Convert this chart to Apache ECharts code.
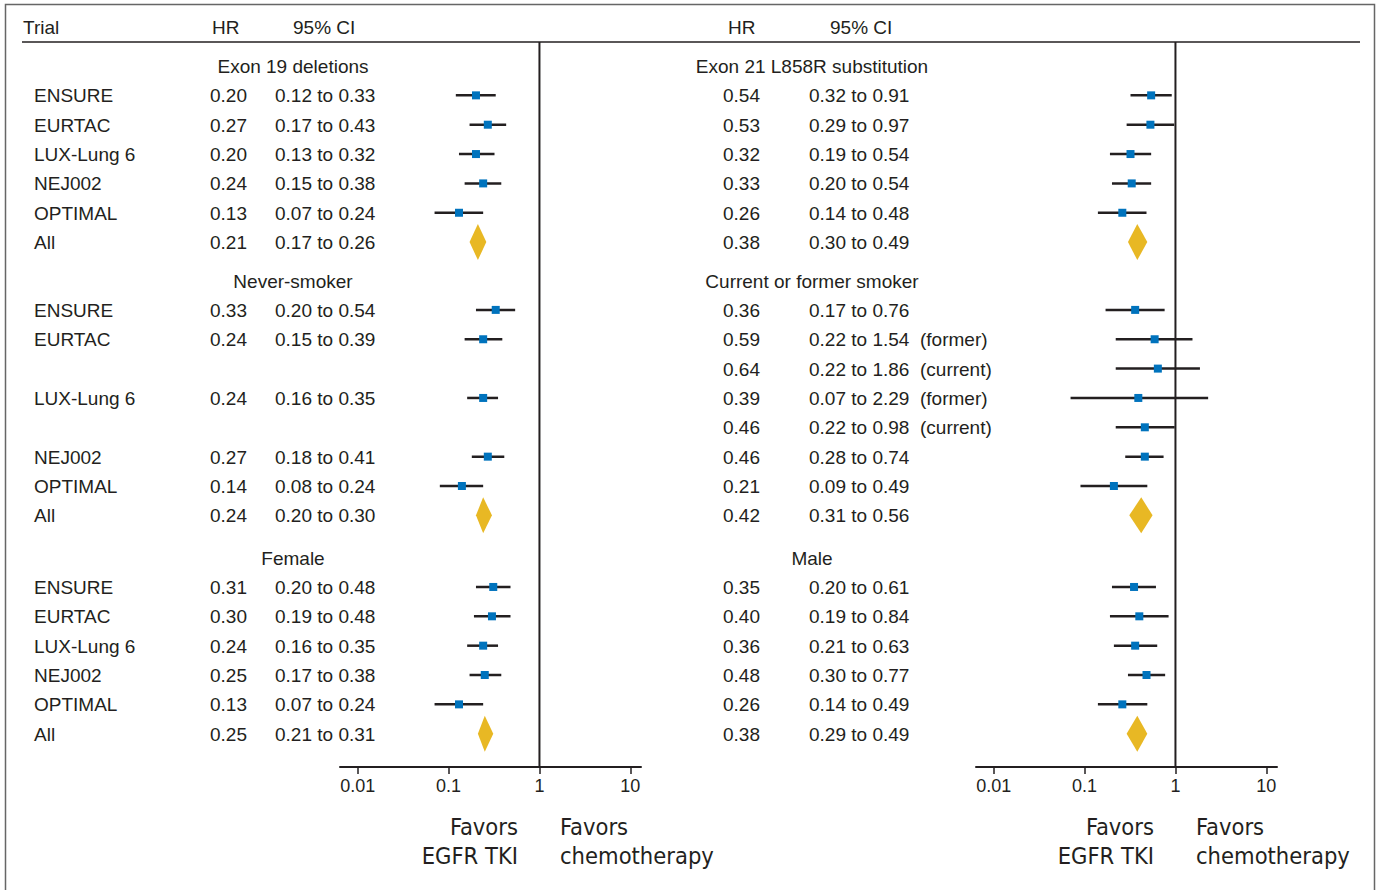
<!DOCTYPE html>
<html><head><meta charset="utf-8">
<script src="https://cdn.jsdelivr.net/npm/echarts@6/dist/echarts.min.js"></script>
<style>html,body{margin:0;padding:0;background:#fff}#c{width:1381px;height:890px}</style>
</head><body><div id="c"></div>
<script>
// ---------- data ----------
const groupTitlesLeft = ['Exon 19 deletions', 'Never-smoker', 'Female'];
const groupTitlesRight = ['Exon 21 L858R substitution', 'Current or former smoker', 'Male'];

const trialNames1 = ['ENSURE', 'EURTAC', 'LUX-Lung 6', 'NEJ002', 'OPTIMAL', 'All'];
const trialNames2 = ['ENSURE', 'EURTAC', '', 'LUX-Lung 6', '', 'NEJ002', 'OPTIMAL', 'All'];
const trialNames2Right = ['ENSURE', 'EURTAC', 'EURTAC', 'LUX-Lung 6', 'LUX-Lung 6', 'NEJ002', 'OPTIMAL', 'All'];
const trialNames3 = ['ENSURE', 'EURTAC', 'LUX-Lung 6', 'NEJ002', 'OPTIMAL', 'All'];

// left panel
const exon19HR = [0.20, 0.27, 0.20, 0.24, 0.13, 0.21];
const exon19Lo = [0.12, 0.17, 0.13, 0.15, 0.07, 0.17];
const exon19Hi = [0.33, 0.43, 0.32, 0.38, 0.24, 0.26];

const neverHR = [0.33, 0.24, null, 0.24, null, 0.27, 0.14, 0.24];
const neverLo = [0.20, 0.15, null, 0.16, null, 0.18, 0.08, 0.20];
const neverHi = [0.54, 0.39, null, 0.35, null, 0.41, 0.24, 0.30];

const femaleHR = [0.31, 0.30, 0.24, 0.25, 0.13, 0.25];
const femaleLo = [0.20, 0.19, 0.16, 0.17, 0.07, 0.21];
const femaleHi = [0.48, 0.48, 0.35, 0.38, 0.24, 0.31];

// right panel
const exon21HR = [0.54, 0.53, 0.32, 0.33, 0.26, 0.38];
const exon21Lo = [0.32, 0.29, 0.19, 0.20, 0.14, 0.30];
const exon21Hi = [0.91, 0.97, 0.54, 0.54, 0.48, 0.49];

const smokerHR = [0.36, 0.59, 0.64, 0.39, 0.46, 0.46, 0.21, 0.42];
const smokerLo = [0.17, 0.22, 0.22, 0.07, 0.22, 0.28, 0.09, 0.31];
const smokerHi = [0.76, 1.54, 1.86, 2.29, 0.98, 0.74, 0.49, 0.56];
const smokerNote = ['', '(former)', '(current)', '(former)', '(current)', '', '', ''];

const maleHR = [0.35, 0.40, 0.36, 0.48, 0.26, 0.38];
const maleLo = [0.20, 0.19, 0.21, 0.30, 0.14, 0.29];
const maleHi = [0.61, 0.84, 0.63, 0.77, 0.49, 0.49];

const tickValues = [0.01, 0.1, 1, 10];
const tickLabels = ['0.01', '0.1', '1', '10'];

// ---------- layout helpers ----------
const GAPS = [0.31, 0.44];
const TXT = '#231f20';
const FONT = "'Liberation Sans', Arial, sans-serif";
const FS = 19;

function buildRows(titles, names, hrs, los, his, notes) {
  const rows = [];
  let base = 0;
  for (let g = 0; g < titles.length; g++) {
    rows.push({ pos: base, header: titles[g] });
    for (let i = 0; i < hrs[g].length; i++) {
      rows.push({
        pos: base + 1 + i,
        name: names[g][i],
        hr: hrs[g][i], lo: los[g][i], hi: his[g][i],
        note: notes[g] ? notes[g][i] : '',
        all: names[g][i] === 'All'
      });
    }
    base = base + hrs[g].length + 1 + (GAPS[g] || 0);
  }
  return rows;
}
const leftRows = buildRows(groupTitlesLeft, [trialNames1, trialNames2, trialNames3],
  [exon19HR, neverHR, femaleHR], [exon19Lo, neverLo, femaleLo], [exon19Hi, neverHi, femaleHi], [null, null, null]);
const rightRows = buildRows(groupTitlesRight, [trialNames1, trialNames2Right, trialNames3],
  [exon21HR, smokerHR, maleHR], [exon21Lo, smokerLo, maleLo], [exon21Hi, smokerHi, maleHi], [null, smokerNote, null]);

const Y_MIN = -0.818, Y_MAX = 23.884;
const X_MIN = -2.196, X_MAX = 1.118;
const lg = v => Math.log10(v);

function textEl(text, x, y, align, size, family) {
  return { type: 'text', silent: true, style: { text, x, y, align, verticalAlign: 'middle', fill: TXT, fontSize: size || FS, fontFamily: family || FONT } };
}

function textSeries(idx, rows, cols) {
  return {
    type: 'custom', xAxisIndex: idx, yAxisIndex: idx, silent: true, clip: false, z: 5,
    data: rows.map(r => [0, r.pos]),
    renderItem(params, api) {
      const r = rows[params.dataIndex];
      const y = api.coord([0, api.value(1)])[1] + 0.5;
      const ch = [];
      if (r.header) {
        ch.push(textEl(r.header, cols.header, y, 'center'));
      } else if (r.hr != null) {
        if (cols.name != null && r.name) ch.push(textEl(r.name, cols.name, y, 'left'));
        ch.push(textEl(r.hr.toFixed(2), cols.hr, y, 'left'));
        ch.push(textEl(r.lo.toFixed(2) + ' to ' + r.hi.toFixed(2), cols.ci, y, 'left'));
        if (r.note) ch.push(textEl(r.note, cols.note, y, 'left'));
      }
      return { type: 'group', children: ch };
    }
  };
}

function ciSeries(idx, rows) {
  const data = rows.filter(r => r.hr != null).map(r => [lg(r.lo), lg(r.hi), lg(r.hr), r.pos, r.all ? 1 : 0]);
  return {
    type: 'custom', xAxisIndex: idx, yAxisIndex: idx, silent: true, z: 3,
    data,
    renderItem(params, api) {
      const lo = api.coord([api.value(0), api.value(3)]);
      const hi = api.coord([api.value(1), api.value(3)]);
      const c = api.coord([api.value(2), api.value(3)]);
      if (api.value(4) === 1) {
        const h = 18;
        return { type: 'polygon', shape: { points: [[lo[0], c[1]], [c[0], c[1] - h], [hi[0], c[1]], [c[0], c[1] + h]] },
          style: { fill: '#e8b824', stroke: null } };
      }
      return { type: 'line', shape: { x1: lo[0], y1: lo[1], x2: hi[0], y2: hi[1] },
        style: { stroke: '#231f20', lineWidth: 2.5 } };
    }
  };
}

function markerSeries(idx, rows) {
  return {
    type: 'scatter', xAxisIndex: idx, yAxisIndex: idx, silent: true, z: 4,
    symbol: 'rect', symbolSize: 8, itemStyle: { color: '#0073bd', opacity: 1 },
    data: rows.filter(r => r.hr != null && !r.all).map(r => [lg(r.hr), r.pos])
  };
}

function refLine(idx) {
  return {
    type: 'line', xAxisIndex: idx, yAxisIndex: idx, silent: true, z: 3, symbol: 'none',
    lineStyle: { color: '#231f20', width: 2 },
    data: [[lg(1), Y_MIN], [lg(1), Y_MAX]]
  };
}

function xAxisDef(idx) {
  const cv = tickValues.map(lg);
  return {
    gridIndex: idx, type: 'value', min: X_MIN, max: X_MAX, position: 'bottom',
    axisLine: { show: true, onZero: false, lineStyle: { color: '#231f20', width: 2 } },
    axisTick: { show: true, length: 7, customValues: cv, lineStyle: { color: '#231f20', width: 1.5 } },
    axisLabel: { customValues: cv, margin: 10, color: TXT, fontSize: 18, fontFamily: FONT,
      formatter: v => tickLabels[cv.findIndex(t => Math.abs(t - v) < 1e-6)] || '' },
    splitLine: { show: false }
  };
}
function yAxisDef(idx) {
  return { gridIndex: idx, type: 'value', min: Y_MIN, max: Y_MAX, inverse: true, show: false };
}

const chart = echarts.init(document.getElementById('c'), null, { renderer: 'svg' });

const FAV_FONT = "'DejaVu Sans Condensed', 'Liberation Sans', sans-serif";
function favors(xr, xl) {
  return [
    { type: 'text', silent: true, style: { text: 'Favors\nEGFR TKI', x: xr, y: 841, align: 'right', verticalAlign: 'middle', fill: TXT, fontSize: 23.5, lineHeight: 29, fontFamily: FAV_FONT } },
    { type: 'text', silent: true, style: { text: 'Favors\nchemotherapy', x: xl, y: 841, align: 'left', verticalAlign: 'middle', fill: TXT, fontSize: 23.5, lineHeight: 29, fontFamily: FAV_FONT } }
  ];
}

chart.setOption({
  backgroundColor: '#fff',
  animation: false,
  grid: [
    { left: 340, width: 301, top: 42, height: 725 },
    { left: 976, width: 301, top: 42, height: 725 }
  ],
  xAxis: [xAxisDef(0), xAxisDef(1)],
  yAxis: [yAxisDef(0), yAxisDef(1)],
  graphic: [
    { type: 'rect', silent: true, shape: { x: 5.5, y: 4.5, width: 1369, height: 900 }, style: { fill: null, stroke: '#666', lineWidth: 1.5 } },
    { type: 'line', silent: true, shape: { x1: 22, y1: 42, x2: 1360, y2: 42 }, style: { stroke: '#231f20', lineWidth: 1.5 } },
    textEl('Trial', 23, 27, 'left'),
    textEl('HR', 212, 27, 'left'),
    textEl('95% CI', 293, 27, 'left'),
    textEl('HR', 728, 27, 'left'),
    textEl('95% CI', 830, 27, 'left'),
    ...favors(518, 560),
    ...favors(1154, 1196)
  ],
  series: [
    refLine(0), refLine(1),
    ciSeries(0, leftRows), ciSeries(1, rightRows),
    markerSeries(0, leftRows), markerSeries(1, rightRows),
    textSeries(0, leftRows, { header: 293, name: 34, hr: 210, ci: 275 }),
    textSeries(1, rightRows, { header: 812, hr: 723, ci: 809, note: 920 })
  ]
});
</script>
</body></html>
